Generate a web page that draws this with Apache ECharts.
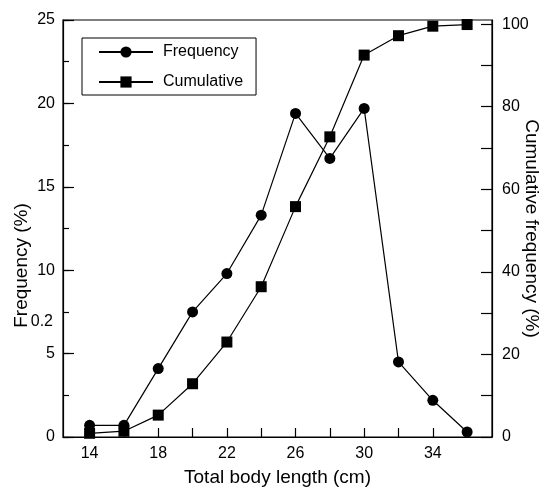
<!DOCTYPE html>
<html>
<head>
<meta charset="utf-8">
<script src="https://cdn.jsdelivr.net/npm/echarts@6/dist/echarts.min.js"></script>
<style>html,body{margin:0;padding:0;background:#fff;}#c{width:550px;height:488px;}</style>
</head>
<body>
<div id="c"></div>
<script>
var lengths = [14, 16, 18, 20, 22, 24, 26, 28, 30, 32, 34, 36];
var frequency = [0.7, 0.7, 4.1, 7.5, 9.8, 13.3, 19.4, 16.7, 19.7, 4.5, 2.2, 0.3];
var cumulative = [0.9, 1.4, 5.3, 12.9, 23.0, 36.4, 55.8, 72.7, 92.5, 97.2, 99.5, 99.9];
var xTickValues = [14, 16, 18, 20, 22, 24, 26, 28, 30, 32, 34, 36];
var xLabelValues = [14, 18, 22, 26, 30, 34];
var leftLabelValues = [0, 5, 7.5, 10, 15, 20, 25];
var leftLabelTexts = ['0', '5', '0.2', '10', '15', '20', '25'];
var rightTickValues = [0, 10, 20, 30, 40, 50, 60, 70, 80, 90, 100];
var rightLabelValues = [0, 20, 40, 60, 80, 100];

var FONT = 'Liberation Sans';
var chart = echarts.init(document.getElementById('c'));
function pairs(ys) { return lengths.map(function (x, i) { return [x, ys[i]]; }); }
var lab = { color: '#000', fontFamily: FONT, fontSize: 16 };
chart.setOption({
  animation: false,
  backgroundColor: '#fff',
  grid: { left: 63, right: 58, top: 20, bottom: 51, containLabel: false, outerBoundsMode: 'none', show: true, borderColor: '#000', borderWidth: 1.2, backgroundColor: 'transparent' },
  legend: {
    left: 82, top: 38, orient: 'vertical',
    data: ['Frequency', 'Cumulative'],
    borderColor: '#000', borderWidth: 1, padding: [6, 13, 5, 16],
    itemWidth: 54, itemHeight: 14, itemGap: 14,
    textStyle: { color: '#000', fontFamily: FONT, fontSize: 16, padding: [0, 0, 0, 5] }
  },
  xAxis: {
    type: 'value', min: 12.45, max: 37.45,
    name: 'Total body length (cm)', nameLocation: 'middle', nameGap: 31, nameMoveOverlap: false,
    nameTextStyle: { color: '#000', fontFamily: FONT, fontSize: 19 },
    axisLine: { show: true, lineStyle: { color: '#000', width: 1.2 } },
    axisTick: { show: true, inside: true, length: 9, customValues: xTickValues, lineStyle: { color: '#000', width: 1.2 } },
    axisLabel: Object.assign({ customValues: xLabelValues, margin: 9 }, lab),
    splitLine: { show: false }
  },
  yAxis: [
    {
      type: 'value', min: 0, max: 25, interval: 5, position: 'left',
      name: 'Frequency (%)', nameLocation: 'middle', nameRotate: 90, nameGap: 32, nameMoveOverlap: false,
      nameTextStyle: { color: '#000', fontFamily: FONT, fontSize: 19, padding: [0, 74, 0, 0] },
      axisLine: { show: true, lineStyle: { color: '#000', width: 1.2 } },
      axisTick: { show: true, inside: true, length: 11, lineStyle: { color: '#000', width: 1.2 } },
      axisLabel: Object.assign({
        customValues: leftLabelValues, margin: 8,
        formatter: function (v) {
          var i = leftLabelValues.indexOf(v);
          var t = i >= 0 ? leftLabelTexts[i] : String(v);
          return v === 7.5 ? '{low|' + t + '}' : t;
        },
        rich: { low: { color: '#000', fontFamily: FONT, fontSize: 16, padding: [20, 2, 0, 0] } }
      }, lab),
      splitLine: { show: false }
    },
    {
      type: 'value', min: 0, max: 25, interval: 2.5, position: 'left',
      axisLine: { show: false },
      axisTick: { show: true, inside: true, length: 6, lineStyle: { color: '#000', width: 1.2 } },
      axisLabel: { show: false },
      splitLine: { show: false }
    },
    {
      type: 'value', min: 0, max: 101, position: 'right',
      name: 'Cumulative frequency (%)', nameLocation: 'middle', nameRotate: -90, nameGap: 30, nameMoveOverlap: false,
      nameTextStyle: { color: '#000', fontFamily: FONT, fontSize: 19 },
      axisLine: { show: true, lineStyle: { color: '#000', width: 1.2 } },
      axisTick: { show: true, inside: true, length: 11, customValues: rightTickValues, lineStyle: { color: '#000', width: 1.2 } },
      axisLabel: Object.assign({ customValues: rightLabelValues, margin: 10 }, lab),
      splitLine: { show: false }
    }
  ],
  series: [
    {
      name: 'Cumulative', type: 'line', yAxisIndex: 2, z: 2,
      data: pairs(cumulative), symbol: 'rect', symbolSize: 11,
      itemStyle: { color: '#000' }, lineStyle: { color: '#000', width: 1.2 }
    },
    {
      name: 'Frequency', type: 'line', yAxisIndex: 0, z: 3,
      data: pairs(frequency), symbol: 'circle', symbolSize: 11,
      itemStyle: { color: '#000' }, lineStyle: { color: '#000', width: 1.2 }
    }
  ]
});
</script>
</body>
</html>
